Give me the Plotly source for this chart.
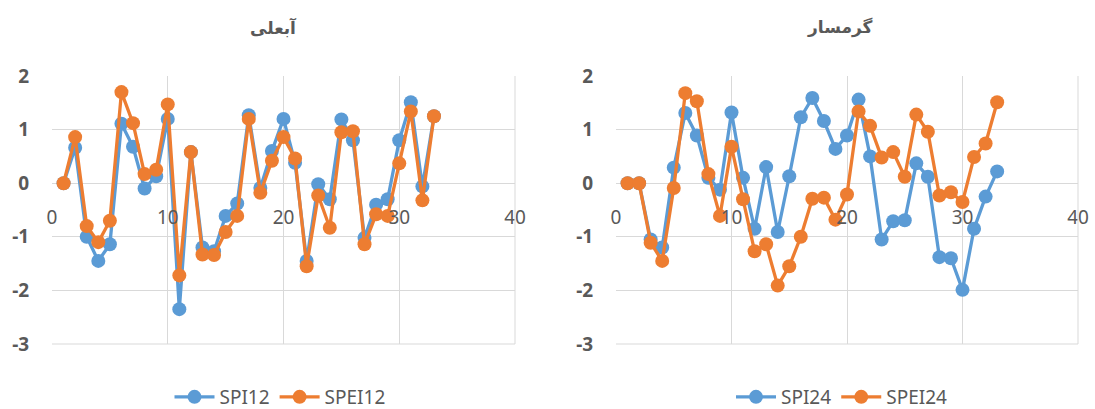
import plotly.graph_objects as go

x_vals = list(range(1, 34))

spi12 = [0, 0.66, -1.0, -1.45, -1.14, 1.11, 0.68, -0.10, 0.13, 1.20, -2.35, 0.58, -1.20, -1.27,
         -0.61, -0.38, 1.27, -0.09, 0.60, 1.20, 0.38, -1.45, -0.02, -0.30, 1.19, 0.80, -1.02,
         -0.40, -0.30, 0.80, 1.51, -0.06, 1.25]
spei12 = [0, 0.86, -0.80, -1.10, -0.70, 1.70, 1.12, 0.17, 0.25, 1.47, -1.72, 0.58, -1.33, -1.34,
          -0.91, -0.61, 1.20, -0.18, 0.42, 0.86, 0.46, -1.55, -0.23, -0.83, 0.95, 0.97, -1.14,
          -0.58, -0.61, 0.37, 1.34, -0.32, 1.25]

spi24 = [0, 0, -1.05, -1.20, 0.29, 1.31, 0.89, 0.10, -0.12, 1.32, 0.10, -0.85, 0.30, -0.91,
         0.13, 1.23, 1.59, 1.16, 0.64, 0.89, 1.56, 0.50, -1.05, -0.71, -0.69, 0.37, 0.12,
         -1.38, -1.40, -1.99, -0.85, -0.25, 0.22]
spei24 = [0, 0, -1.11, -1.45, -0.09, 1.68, 1.53, 0.17, -0.61, 0.68, -0.30, -1.27, -1.14, -1.91,
          -1.55, -1.00, -0.29, -0.27, -0.68, -0.21, 1.34, 1.07, 0.48, 0.58, 0.12, 1.28, 0.96,
          -0.23, -0.17, -0.35, 0.49, 0.74, 1.51]

titles = ["آبعلی", "گرمسار"]
x_ticks = [0, 10, 20, 30, 40]
y_ticks = [-3, -2, -1, 0, 1, 2]
y_ticktext = ["-3", "-2", "-1", "0", "1", "2"]

BLUE = "#5B9BD5"
ORANGE = "#ED7D31"
GRID = "#D9D9D9"
TXT = "#595959"
W, H = 1095, 409

fig = go.Figure()

def add(xa, ya, y, name, color, legend):
    fig.add_trace(go.Scatter(
        x=x_vals, y=y, name=name, mode="lines+markers",
        line=dict(color=color, width=3.3),
        marker=dict(color=color, size=14),
        xaxis=xa, yaxis=ya, legend=legend))

add("x", "y", spi12, "SPI12", BLUE, "legend")
add("x", "y", spei12, "SPEI12", ORANGE, "legend")
add("x2", "y2", spi24, "SPI24", BLUE, "legend2")
add("x2", "y2", spei24, "SPEI24", ORANGE, "legend2")

ydom = [1 - 344 / H, 1 - 76 / H]
xdom1 = [52 / W, 515 / W]
xdom2 = [616 / W, 1078 / W]
zero_pos = ydom[0] + 0.6 * (ydom[1] - ydom[0])

tickfont_x = dict(family="Noto Sans", size=19, color=TXT)
tickfont_y = dict(family="Noto Sans", size=19, color=TXT, weight="bold")

for i, dom in enumerate([xdom1, xdom2]):
    s = "" if i == 0 else "2"
    fig.update_layout(**{
        f"xaxis{s}": dict(domain=dom, range=[0, 40], tickvals=x_ticks, showgrid=True,
                          gridcolor=GRID, gridwidth=1, zeroline=False, showline=False,
                          anchor="free", position=zero_pos, ticks="outside", ticklen=17,
                          tickcolor="rgba(0,0,0,0)", tickfont=tickfont_x),
        f"yaxis{s}": dict(domain=ydom, range=[-3, 2], tickvals=y_ticks, ticktext=y_ticktext,
                          showgrid=True, gridcolor=GRID, gridwidth=1, zeroline=False,
                          showline=False, anchor="x" + s, ticks="outside", ticklen=18,
                          tickcolor="rgba(0,0,0,0)", tickfont=tickfont_y),
    })
    fig.add_shape(type="line", xref="paper", yref="paper", x0=dom[1], x1=dom[1],
                  y0=ydom[0], y1=ydom[1], line=dict(color=GRID, width=1))
    fig.add_shape(type="line", xref="paper", yref="paper", x0=dom[0], x1=dom[1],
                  y0=ydom[0], y1=ydom[0], line=dict(color=GRID, width=1))

fig.add_annotation(text=titles[0], x=273 / W, y=1 - 27 / H, xref="paper", yref="paper",
                   xanchor="center", yanchor="middle", showarrow=False,
                   font=dict(family="DejaVu Sans", size=17, color=TXT, weight="bold"))
fig.add_annotation(text=titles[1], x=840 / W, y=1 - 27 / H, xref="paper", yref="paper",
                   xanchor="center", yanchor="middle", showarrow=False,
                   font=dict(family="DejaVu Sans", size=17, color=TXT, weight="bold"))

legfont = dict(family="Noto Sans", size=19, color=TXT)
fig.update_layout(
    width=W, height=H,
    margin=dict(l=0, r=0, t=0, b=0, autoexpand=False),
    paper_bgcolor="white", plot_bgcolor="white",
    legend=dict(orientation="h", x=280 / W, y=1 - 397 / H, xanchor="center", yanchor="middle",
                font=legfont, bgcolor="rgba(0,0,0,0)", itemwidth=40),
    legend2=dict(orientation="h", x=842 / W, y=1 - 397 / H, xanchor="center", yanchor="middle",
                 font=legfont, bgcolor="rgba(0,0,0,0)", itemwidth=40),
)

fig.write_html("out.html", config={"displayModeBar": False},
               post_script="document.body.style.margin='0';document.body.style.overflow='hidden';")
